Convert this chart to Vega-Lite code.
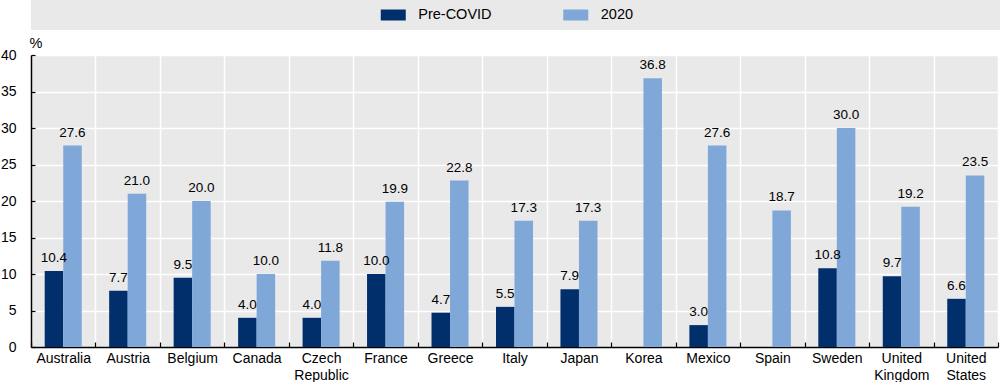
{
  "$schema": "https://vega.github.io/schema/vega-lite/v6.json",
  "background": "white",
  "padding": 0,
  "config": {
    "font": "Liberation Sans",
    "view": {"fill": "#e9e9e9", "stroke": null},
    "axis": {"labelFont": "Liberation Sans", "labelFontSize": 14, "labelColor": "#000000", "titleFont": "Liberation Sans", "titleFontWeight": "normal", "titleFontSize": 14.5, "titleColor": "#000000"}
  },
  "spacing": 25,
  "bounds": "flush",
  "vconcat": [
    {
      "width": 969,
      "height": 30,
      "data": {"values": [{"series": "Pre-COVID"}, {"series": "2020"}]},
      "layer": [
        {
          "mark": {"type": "point", "shape": "M-1,-0.44H1V0.44H-1Z", "filled": true, "size": 625, "opacity": 1},
          "encoding": {
            "x": {"field": "series", "type": "nominal", "scale": {"type": "point", "domain": ["Pre-COVID", "2020"], "range": [271, 636]}, "axis": null},
            "color": {"field": "series", "type": "nominal", "scale": {"domain": ["Pre-COVID", "2020"], "range": ["#002f6c", "#7fa8d9"]}, "legend": null}
          }
        },
        {
          "mark": {"type": "text", "align": "left", "baseline": "middle", "dx": 25, "fontSize": 14.5, "color": "#000000"},
          "encoding": {
            "x": {"field": "series", "type": "nominal", "scale": {"type": "point", "domain": ["Pre-COVID", "2020"], "range": [271, 636]}, "axis": null},
            "text": {"field": "series"}
          }
        }
      ]
    },
    {
      "width": 967,
      "height": 292,
      "data": {"values": [
        {"country": "Australia", "series": "Pre-COVID", "value": 10.4},
        {"country": "Australia", "series": "2020", "value": 27.6},
        {"country": "Austria", "series": "Pre-COVID", "value": 7.7},
        {"country": "Austria", "series": "2020", "value": 21.0},
        {"country": "Belgium", "series": "Pre-COVID", "value": 9.5},
        {"country": "Belgium", "series": "2020", "value": 20.0},
        {"country": "Canada", "series": "Pre-COVID", "value": 4.0},
        {"country": "Canada", "series": "2020", "value": 10.0},
        {"country": "Czech Republic", "series": "Pre-COVID", "value": 4.0},
        {"country": "Czech Republic", "series": "2020", "value": 11.8},
        {"country": "France", "series": "Pre-COVID", "value": 10.0},
        {"country": "France", "series": "2020", "value": 19.9},
        {"country": "Greece", "series": "Pre-COVID", "value": 4.7},
        {"country": "Greece", "series": "2020", "value": 22.8},
        {"country": "Italy", "series": "Pre-COVID", "value": 5.5},
        {"country": "Italy", "series": "2020", "value": 17.3},
        {"country": "Japan", "series": "Pre-COVID", "value": 7.9},
        {"country": "Japan", "series": "2020", "value": 17.3},
        {"country": "Korea", "series": "2020", "value": 36.8},
        {"country": "Mexico", "series": "Pre-COVID", "value": 3.0},
        {"country": "Mexico", "series": "2020", "value": 27.6},
        {"country": "Spain", "series": "2020", "value": 18.7},
        {"country": "Sweden", "series": "Pre-COVID", "value": 10.8},
        {"country": "Sweden", "series": "2020", "value": 30.0},
        {"country": "United Kingdom", "series": "Pre-COVID", "value": 9.7},
        {"country": "United Kingdom", "series": "2020", "value": 19.2},
        {"country": "United States", "series": "Pre-COVID", "value": 6.6},
        {"country": "United States", "series": "2020", "value": 23.5}
      ]},
      "encoding": {
        "x": {"field": "country", "type": "nominal", "sort": null,
          "scale": {"paddingInner": 0, "paddingOuter": 0},
          "axis": {"title": null, "labelAngle": 0, "tickBand": "extent", "grid": true, "gridColor": "#ffffff", "gridWidth": 1.5, "domainColor": "#000000", "domainWidth": 1.5, "tickColor": "#000000", "tickSize": -5, "tickWidth": 1.2, "labelPadding": 9, "labelExpr": "split(datum.label, ' ')", "labelLineHeight": 17}},
        "xOffset": {"field": "series", "type": "nominal", "sort": ["Pre-COVID", "2020"], "scale": {"paddingOuter": 0.74, "paddingInner": 0}},
        "y": {"field": "value", "type": "quantitative",
          "scale": {"domain": [0, 40]},
          "axis": {"title": "%", "titleAngle": 0, "titleAlign": "left", "titleBaseline": "alphabetic", "titleX": -2, "titleY": -8, "values": [0, 5, 10, 15, 20, 25, 30, 35, 40], "grid": true, "gridColor": "#ffffff", "gridWidth": 1.5, "domainColor": "#000000", "domainWidth": 1.5, "tickColor": "#000000", "tickSize": -4, "tickWidth": 1.2, "labelPadding": 19}}
      },
      "layer": [
        {
          "mark": {"type": "bar"},
          "encoding": {
            "color": {"field": "series", "type": "nominal", "scale": {"domain": ["Pre-COVID", "2020"], "range": ["#002f6c", "#7fa8d9"]}, "legend": null}
          }
        },
        {
          "mark": {"type": "text", "baseline": "bottom", "dy": -6, "fontSize": 13.5, "color": "#000000"},
          "encoding": {
            "text": {"field": "value", "type": "quantitative", "format": ".1f"}
          }
        }
      ]
    }
  ]
}
